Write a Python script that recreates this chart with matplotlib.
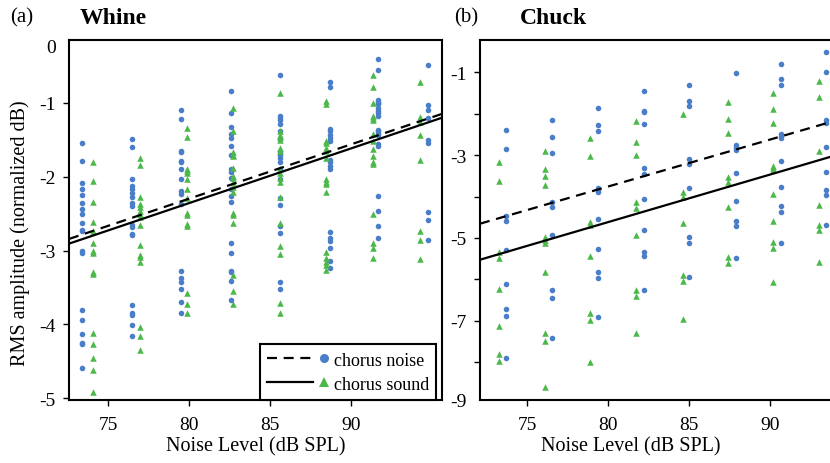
import numpy as np
import matplotlib.pyplot as plt
from matplotlib.lines import Line2D

plt.rcParams['font.family'] = 'Liberation Serif'

BLUE = '#4a7ec9'
GREEN = '#4cb84a'
DASHED = (0, (4.5, 3))

# --- (a) Whine: noise level columns and RMS amplitudes (normalized dB)
whine_noise_x = [73.4, 76.5, 79.5, 82.6, 85.6, 88.7, 91.7, 94.8]
whine_noise_y = [
    [-1.54, -1.79, -2.09, -2.16, -2.24, -2.36, -2.43, -2.51, -2.63, -2.72, -2.74, -3.01, -3.03,
     -3.80, -3.94, -4.13, -4.25, -4.27, -4.59],
    [-1.49, -1.59, -2.03, -2.12, -2.17, -2.22, -2.28, -2.35, -2.40, -2.65, -2.68, -2.77, -2.79,
     -3.73, -3.85, -3.87, -4.01, -4.16],
    [-1.09, -1.22, -1.65, -1.67, -1.79, -1.80, -1.90, -2.03, -2.19, -2.23, -2.37, -3.27, -3.37,
     -3.43, -3.52, -3.69, -3.85],
    [-0.84, -1.13, -1.33, -1.42, -1.47, -1.58, -1.70, -1.89, -1.93, -2.02, -2.16, -2.26, -2.34,
     -2.89, -3.03, -3.27, -3.29, -3.41, -3.67],
    [-0.62, -1.17, -1.20, -1.23, -1.28, -1.38, -1.49, -1.67, -1.70, -1.74, -1.80, -1.89, -2.03,
     -2.29, -2.38, -2.67, -2.76, -3.42, -3.52],
    [-0.72, -0.79, -1.35, -1.38, -1.44, -1.47, -1.52, -1.77, -1.80, -1.85, -1.89, -2.75, -2.83,
     -2.87, -2.96, -3.14, -3.23],
    [-0.40, -0.56, -0.96, -0.98, -1.00, -1.02, -1.07, -1.11, -1.14, -1.18, -1.36, -1.38, -1.40,
     -1.43, -1.56, -1.58, -2.26, -2.46, -2.67, -2.83],
    [-0.48, -1.03, -1.10, -1.21, -1.50, -1.54, -2.47, -2.58, -2.85],
]
whine_sound_x = [74.1, 77.0, 79.9, 82.7, 85.6, 88.5, 91.4, 94.3]
whine_sound_y = [
    [-1.80, -2.05, -2.34, -2.61, -2.74, -2.89, -3.01, -3.03, -3.29, -3.32, -4.12, -4.27, -4.46,
     -4.62, -4.92],
    [-1.75, -1.84, -2.27, -2.37, -2.41, -2.46, -2.51, -2.54, -2.65, -2.93, -3.06, -3.08, -3.16,
     -4.03, -4.16, -4.34],
    [-1.34, -1.46, -1.89, -1.92, -1.95, -2.03, -2.16, -2.29, -2.49, -2.52, -2.64, -2.66, -3.57,
     -3.72, -3.84],
    [-1.07, -1.38, -1.67, -1.70, -1.72, -1.88, -1.99, -2.02, -2.07, -2.14, -2.20, -2.49, -2.52,
     -2.62, -3.33, -3.55, -3.72],
    [-0.86, -1.38, -1.43, -1.46, -1.50, -1.61, -1.65, -1.90, -1.95, -2.01, -2.07, -2.28, -2.63,
     -2.94, -3.05, -3.71, -3.84],
    [-0.97, -1.01, -1.51, -1.54, -1.61, -1.65, -1.74, -2.03, -2.07, -2.10, -2.21, -3.02, -3.10,
     -3.15, -3.19, -3.26],
    [-0.62, -0.79, -1.00, -1.18, -1.21, -1.23, -1.42, -1.51, -1.63, -1.72, -1.80, -1.83, -2.51,
     -2.89, -2.96, -3.10],
    [-0.71, -1.19, -1.26, -1.44, -1.77, -2.73, -2.86, -3.12],
]
# fitted lines: (slope, intercept)
whine_noise_fit = (0.0735, -8.177)
whine_sound_fit = (0.0740, -8.277)

# --- (b) Chuck
chuck_noise_x = [73.7, 76.55, 79.4, 82.2, 85.0, 87.9, 90.7, 93.5]
chuck_noise_y = [
    [-2.39, -2.85, -4.47, -4.60, -5.29, -6.11, -6.72, -6.88, -7.89],
    [-2.15, -2.56, -2.95, -4.14, -4.25, -4.93, -6.27, -6.44, -7.42],
    [-1.86, -2.27, -2.42, -3.79, -3.84, -3.89, -4.54, -5.27, -5.82, -5.98, -6.91],
    [-1.44, -1.93, -1.97, -2.25, -3.32, -3.46, -4.07, -4.81, -5.33, -5.44, -6.25],
    [-1.30, -1.69, -1.82, -3.09, -3.21, -3.80, -4.98, -5.12, -5.95],
    [-1.02, -2.76, -2.82, -2.87, -3.44, -4.10, -4.58, -4.71, -5.49],
    [-0.81, -1.16, -1.30, -2.50, -2.55, -2.59, -3.15, -3.77, -4.24, -4.37, -5.13],
    [-0.52, -0.99, -2.15, -2.22, -2.80, -3.42, -3.84, -3.96, -4.69],
]
chuck_sound_x = [73.25, 76.1, 78.9, 81.75, 84.6, 87.4, 90.2, 93.05]
chuck_sound_y = [
    [-3.16, -3.63, -5.35, -5.48, -6.23, -7.13, -7.80, -7.97],
    [-2.90, -3.33, -3.50, -3.73, -4.98, -5.04, -5.12, -5.83, -7.30, -7.49, -8.59],
    [-2.59, -3.01, -4.62, -4.70, -5.43, -6.81, -6.98, -8.00],
    [-2.18, -2.68, -3.00, -4.13, -4.28, -4.92, -6.27, -6.40, -7.30],
    [-2.01, -3.88, -4.00, -4.64, -5.90, -6.04, -6.96],
    [-1.72, -2.13, -2.47, -3.52, -3.66, -4.25, -5.45, -5.61],
    [-1.51, -1.88, -2.22, -3.26, -3.32, -3.37, -3.94, -4.60, -5.10, -5.24, -6.06],
    [-1.21, -1.60, -2.91, -4.21, -4.69, -4.82, -5.58],
]
chuck_noise_fit = (0.1132, -12.815)
chuck_sound_fit = (0.1146, -13.786)

x_ticks = [75, 80, 85, 90]


def columns(xs, ys):
    x = np.concatenate([np.full(len(col), xv) for xv, col in zip(xs, ys)])
    y = np.concatenate([np.array(col) for col in ys])
    return x, y


# legend entry: a line followed by a marker
class LineThenMarker:
    def legend_artist(self, legend, orig_handle, fontsize, handlebox):
        ls, marker, color = orig_handle
        x0, y0 = handlebox.xdescent, handlebox.ydescent
        w, h = handlebox.width, handlebox.height
        ln = Line2D([x0, x0 + 0.74 * w], [y0 + h / 2] * 2, color='black', lw=1.6, ls=ls)
        mk = Line2D([x0 + 0.92 * w], [y0 + h / 2], ls='none', marker=marker,
                    color=color, markersize=6.5, markeredgewidth=0)
        handlebox.add_artist(ln)
        handlebox.add_artist(mk)
        return ln


def draw_panel(ax, noise_x, noise_y, sound_x, sound_y, noise_fit, sound_fit, xlim):
    ax.set_xlim(*xlim)
    nx, ny = columns(noise_x, noise_y)
    sx, sy = columns(sound_x, sound_y)
    ax.scatter(nx, ny, s=16, marker='o', color=BLUE, linewidths=0, zorder=2)
    ax.scatter(sx, sy, s=22, marker='^', color=GREEN, linewidths=0, zorder=2)
    xx = np.array(xlim)
    ax.plot(xx, noise_fit[0] * xx + noise_fit[1], color='black', lw=1.6, ls=DASHED, zorder=3)
    ax.plot(xx, sound_fit[0] * xx + sound_fit[1], color='black', lw=1.6, zorder=3)
    ax.set_xticks(x_ticks)
    ax.tick_params(direction='out', length=4.5, width=1, labelsize=14, pad=5)
    ax.tick_params(axis='x', pad=7)
    for sp in ax.spines.values():
        sp.set_linewidth(1.5)


fig = plt.figure(figsize=(8.3, 4.64), dpi=100)
W, H = 830, 464
ax1 = fig.add_axes([69 / W, 1 - 401 / H, (442 - 69) / W, 360 / H])
ax2 = fig.add_axes([480 / W, 1 - 401 / H, (832 - 480) / W, 360 / H])

draw_panel(ax1, whine_noise_x, whine_noise_y, whine_sound_x, whine_sound_y,
           whine_noise_fit, whine_sound_fit, (72.59, 95.64))
ax1.set_ylim(-5.023, -0.147)
ax1.set_yticks([-5, -4, -3, -2, -1, -0.22])
ax1.set_yticklabels(['-5', '-4', '-3', '-2', '-1', '0'])
ax1.yaxis.get_major_ticks()[-1].tick1line.set_visible(False)

draw_panel(ax2, chuck_noise_x, chuck_noise_y, chuck_sound_x, chuck_sound_y,
           chuck_noise_fit, chuck_sound_fit, (72.07, 93.85))
ax2.set_ylim(-8.915, -0.22)
ax2.set_yticks([-8.915, -8, -7, -6, -5, -4, -3, -2, -1])
ax2.set_yticklabels(['-9', '', '-7', '', '-5', '', '-3', '', '-1'])
ax2.yaxis.get_major_ticks()[0].tick1line.set_visible(False)

leg = ax1.legend([(DASHED, 'o', BLUE), ('-', '^', GREEN)], ['chorus noise', 'chorus sound'],
                 handler_map={tuple: LineThenMarker()},
                 loc='lower right', bbox_to_anchor=(0.985, 0.0), borderaxespad=0,
                 fontsize=13, handlelength=3.4, handletextpad=0.3,
                 frameon=True, fancybox=False, edgecolor='black', framealpha=1,
                 borderpad=0.4, labelspacing=0.4)
leg.get_frame().set_linewidth(1.5)

fig.text(22 / W, 1 - 18 / H, '(a)', fontsize=15, ha='center', va='center')
fig.text(80 / W, 1 - 18 / H, 'Whine', fontsize=17, fontweight='bold', ha='left', va='center')
fig.text(466 / W, 1 - 18 / H, '(b)', fontsize=15, ha='center', va='center')
fig.text(520 / W, 1 - 18 / H, 'Chuck', fontsize=17, fontweight='bold', ha='left', va='center')
fig.text(20 / W, 1 - 233 / H, 'RMS amplitude (normalized dB)', fontsize=14.5, rotation=90,
         ha='center', va='center')
fig.text(256 / W, 1 - 447 / H, 'Noise Level (dB SPL)', fontsize=14.5, ha='center', va='center')
fig.text(631 / W, 1 - 447 / H, 'Noise Level (dB SPL)', fontsize=14.5, ha='center', va='center')

fig.savefig('out.png', dpi=100)
